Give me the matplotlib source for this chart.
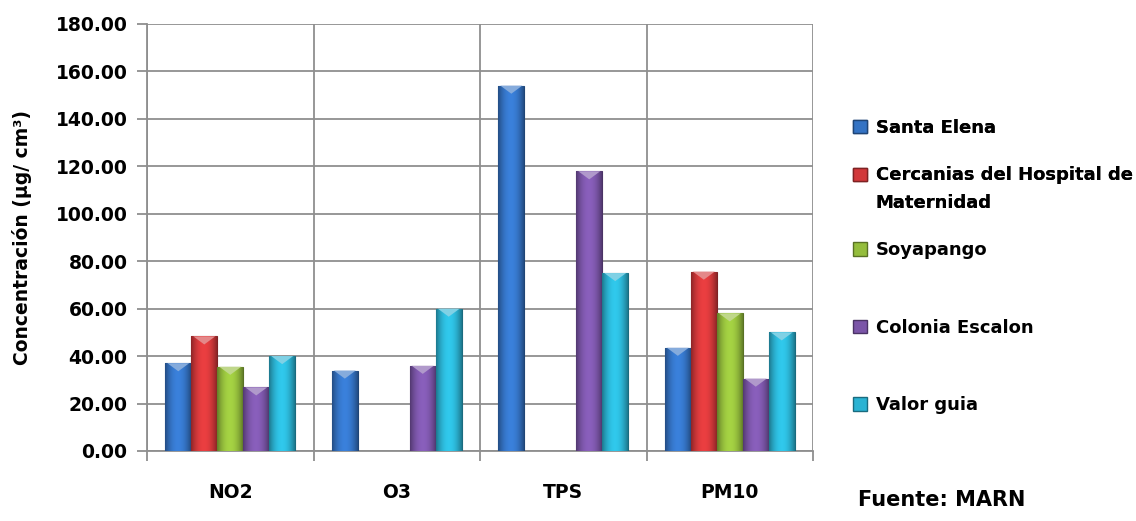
import numpy as np
import matplotlib.pyplot as plt
from matplotlib.patches import Patch, Rectangle, Polygon
from matplotlib.legend_handler import HandlerPatch
from matplotlib.colors import to_rgb

categories = ["NO2", "O3", "TPS", "PM10"]
stations = ["Santa Elena", "Cercanias del Hospital de\nMaternidad", "Soyapango",
            "Colonia Escalon", "Valor guia"]
santa_elena = [37.0, 33.9, 154.0, 43.5]
hospital = [48.3, np.nan, np.nan, 75.6]
soyapango = [35.5, np.nan, np.nan, 58.0]
escalon = [26.8, 35.9, 117.9, 30.5]
valor_guia = [40.0, 60.0, 75.0, 50.0]
yticks = np.arange(0, 181, 20)

series = [santa_elena, hospital, soyapango, escalon, valor_guia]
colors = ["#3473c4", "#d2383a", "#94bd3c", "#7b55a8", "#2bb3d3"]

plt.rcParams['font.family'] = ['DejaVu Sans']
plt.rcParams['font.weight'] = 'bold'

fig = plt.figure(figsize=(11.36, 5.21), dpi=100)
ax = fig.add_axes([0.1294, 0.1344, 0.5863, 0.8196])

x = np.arange(len(categories))
w = 0.156
grid_c = "#8f8f8f"
ax.set_xlim(-0.5, len(categories) - 0.5)
ax.set_ylim(0, 180)


def shade(patch, color):
    # horizontal bevel-like gradient clipped to the bar, plus a light chevron on top
    bx, by = patch.get_x(), patch.get_y()
    bw, bh = patch.get_width(), patch.get_height()
    base = np.array(to_rgb(color))
    t = np.linspace(-1, 1, 64)
    f = 1.12 - 0.45 * t ** 2
    img = np.clip(base[None, :] * f[:, None], 0, 1)[None, :, :]
    im = ax.imshow(img, extent=(bx, bx + bw, by, by + bh), aspect='auto',
                   interpolation='bilinear', zorder=3)
    im.set_clip_path(patch)
    d = 3.4
    top = by + bh
    light = np.clip(base + (1 - base) * 0.4, 0, 1)
    ax.add_patch(Polygon([(bx + bw * 0.08, top), (bx + bw * 0.92, top),
                          (bx + bw * 0.5, top - d)], closed=True,
                         facecolor=light, edgecolor='none', zorder=4))


for i, (vals, c) in enumerate(zip(series, colors)):
    vals = np.array(vals, dtype=float)
    ok = ~np.isnan(vals)
    bars = ax.bar(x[ok] + (i - 2) * w, vals[ok], width=w, color=c,
                  edgecolor=np.array(to_rgb(c)) * 0.6, linewidth=0.8, zorder=3)
    for b in bars:
        shade(b, c)

ax.set_yticks(yticks)
ax.set_yticklabels([f"{v:.2f}" for v in yticks])
ax.set_xticks(x)
ax.set_xticklabels(categories)
ax.set_xticks(np.arange(-0.5, len(categories)), minor=True)

ax.grid(axis='y', color=grid_c, linewidth=1.3, zorder=0)
ax.grid(axis='x', which='minor', color=grid_c, linewidth=1.3, zorder=0)
ax.set_axisbelow(True)

for s in ['top', 'right']:
    ax.spines[s].set_visible(False)
for s in ['left', 'bottom']:
    ax.spines[s].set_color(grid_c)
    ax.spines[s].set_linewidth(1.3)

ax.tick_params(axis='y', length=7, width=1.3, color=grid_c, labelsize=13.5, pad=7)
ax.tick_params(axis='x', which='major', length=0, labelsize=13.5, pad=23)
ax.tick_params(axis='x', which='minor', length=7, width=1.3, color=grid_c)

ax.set_ylabel("Concentración (µg/ cm³)", fontsize=13.5, fontweight='bold')
ax.yaxis.set_label_coords(-0.173, 0.5)


def top_line_patch(legend, orig_handle, xdescent, ydescent, width, height, fontsize):
    # keep the square level with the first line of a two-line label
    return Rectangle((-xdescent, -ydescent + 0.82 * fontsize), width, height)


handles = [Patch(facecolor=c, edgecolor=np.array(to_rgb(c)) * 0.6) for c in colors]
leg_kw = dict(frameon=False, fontsize=13, handlelength=0.75, handleheight=0.75,
              handletextpad=0.5, borderaxespad=0, borderpad=0)
leg1 = fig.legend(handles[:2], stations[:2], loc='upper left',
                  bbox_to_anchor=(0.751, 0.772), labelspacing=1.62,
                  handler_map={handles[1]: HandlerPatch(patch_func=top_line_patch)},
                  **leg_kw)
leg1.get_texts()[1].set_linespacing(1.7)
fig.legend(handles[2:], stations[2:], loc='upper left',
           bbox_to_anchor=(0.751, 0.537), labelspacing=3.3, **leg_kw)
fig.add_artist(leg1)

fig.text(0.755, 0.028, "Fuente: MARN", fontsize=15, fontweight='bold')

fig.savefig("out.png", dpi=100)
